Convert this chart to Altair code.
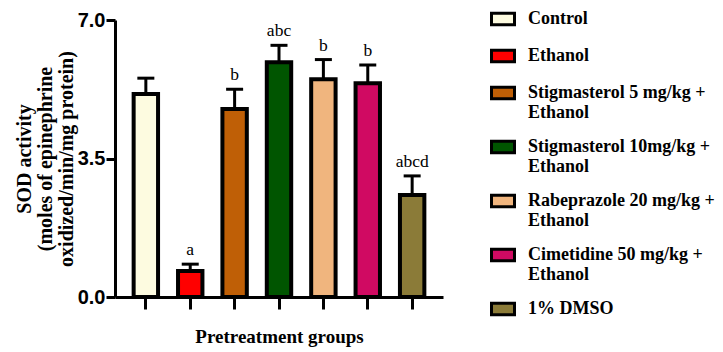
import altair as alt
import pandas as pd

groups = [
    "Control",
    "Ethanol",
    "Stigmasterol 5 mg/kg + Ethanol",
    "Stigmasterol 10mg/kg + Ethanol",
    "Rabeprazole 20 mg/kg + Ethanol",
    "Cimetidine 50 mg/kg + Ethanol",
    "1% DMSO",
]
means = [5.13, 0.66, 4.75, 5.93, 5.50, 5.40, 2.58]
errors = [0.40, 0.17, 0.50, 0.43, 0.50, 0.46, 0.48]
letters = ["", "a", "b", "abc", "b", "b", "abcd"]
colors = ["#FDFBE0", "#FF0000", "#BF5F06", "#005500", "#F0B57E", "#D00A62", "#8B7B38"]
y_ticks = [0, 3.5, 7.0]
y_title = ["SOD activity", "(moles of epinephrine", "oxidized/min/mg protein)"]
x_title = "Pretreatment groups"

SERIF = "Liberation Serif, Times New Roman, serif"
SANS = "Liberation Sans Narrow, Arial Narrow, Liberation Sans, Arial, sans-serif"

df = pd.DataFrame({"group": groups, "mean": means, "err": errors, "letter": letters})
df["upper"] = df["mean"] + df["err"]

x_scale = alt.Scale(paddingInner=0.45, paddingOuter=0.42)
x_axis = alt.Axis(
    title=x_title, labels=False, ticks=True, tickSize=12, tickWidth=3, tickColor="black",
    domainWidth=3, domainColor="black", titleFont=SERIF, titleFontSize=19,
    titleFontWeight="bold", titleColor="black", titlePadding=17,
)
y_scale = alt.Scale(domain=[0, 7], nice=False, zero=True)
y_axis = alt.Axis(
    values=y_ticks, format=".1f", title=y_title, titleFont=SERIF,
    titleFontSize=20, titleFontWeight="bold", titleColor="black", titleLineHeight=21,
    titlePadding=1, labelFont=SANS, labelFontSize=20, labelFontWeight="bold",
    labelColor="black", labelPadding=1, tickSize=9, tickWidth=3, tickColor="black",
    domainWidth=3, domainColor="black", grid=False,
)

def X():
    return alt.X("group:N", sort=groups, scale=x_scale, axis=x_axis)

label_expr = (
    "indexof(datum.label, '+') > 0 ? "
    "[substring(datum.label, 0, indexof(datum.label, '+') + 1), "
    "substring(datum.label, indexof(datum.label, '+') + 2)] : datum.label"
)

bars = alt.Chart(df).mark_bar(stroke="black", strokeWidth=4).encode(
    x=X(),
    y=alt.Y("mean:Q", scale=y_scale, axis=y_axis),
    color=alt.Color(
        "group:N",
        sort=groups,
        scale=alt.Scale(domain=groups, range=colors),
        legend=alt.Legend(
            title=None, orient="none", legendX=375, legendY=-14, padding=0,
            symbolType="M-1,-0.5H1V0.5H-1Z", symbolSize=529, symbolStrokeColor="black",
            symbolStrokeWidth=3, symbolOpacity=1, labelFont=SERIF,
            labelFontSize=18, labelFontWeight="bold", labelColor="black", labelOffset=12,
            rowPadding=12, labelLimit=300, labelExpr=label_expr,
        ),
    ),
)

rule = alt.Chart(df).mark_rule(color="black", strokeWidth=3).encode(
    x=X(), y=alt.Y("mean:Q", scale=y_scale, axis=y_axis), y2="upper:Q"
)
cap = alt.Chart(df).mark_tick(color="black", thickness=3, size=17, opacity=1).encode(
    x=X(), y=alt.Y("upper:Q", scale=y_scale, axis=y_axis)
)
text = alt.Chart(df).mark_text(
    font=SERIF, fontSize=17.5, baseline="alphabetic", dy=-9, color="black"
).encode(x=X(), y=alt.Y("upper:Q", scale=y_scale, axis=y_axis), text="letter:N")

chart = (
    alt.layer(rule, bars, cap, text)
    .properties(
        width=328, height=277,
        autosize=alt.AutoSizeParams(type="none"),
        padding={"left": 107, "top": 12, "right": 272, "bottom": 50},
        background="white",
    )
    .configure_view(stroke=None)
)

chart.save("out.html", embed_options={"renderer": "svg", "actions": False})
